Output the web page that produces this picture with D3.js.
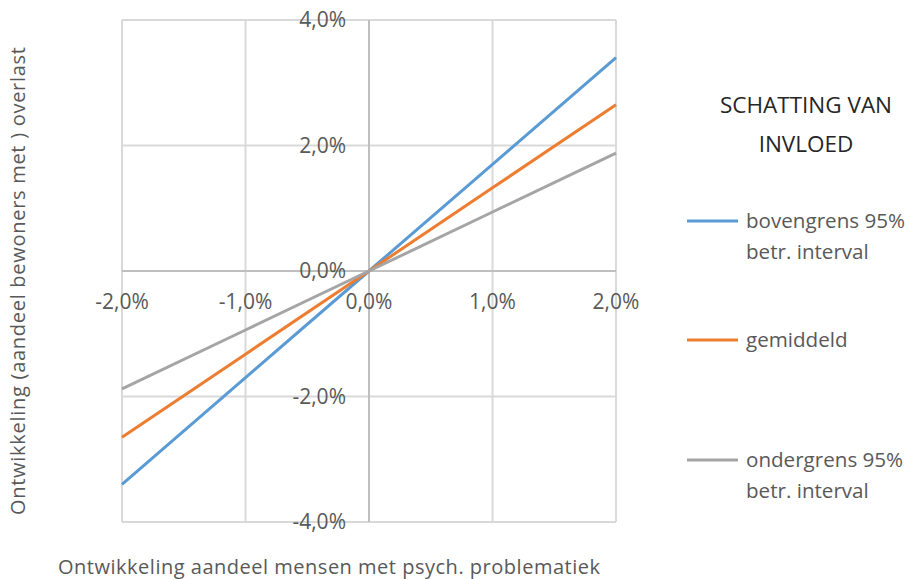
<!DOCTYPE html>
<html><head><meta charset="utf-8">
<script src="https://cdn.jsdelivr.net/npm/d3@7"></script>
<style>body{margin:0;background:#fff}svg{display:block}text{font-family:"Open Sans",sans-serif}</style>
</head><body><svg id="c" width="910" height="579"></svg>
<script>
const xValues = [-0.02, -0.01, 0, 0.01, 0.02];
const bovengrens = [-0.034, -0.017, 0, 0.017, 0.034];
const gemiddeld = [-0.0265, -0.01325, 0, 0.01325, 0.0265];
const ondergrens = [-0.0188, -0.0094, 0, 0.0094, 0.0188];
const xTicks = [-0.02, -0.01, 0, 0.01, 0.02];
const yTicks = [-0.04, -0.02, 0, 0.02, 0.04];
const seriesNames = ["bovengrens 95%|betr. interval", "gemiddeld", "ondergrens 95%|betr. interval"];
const colors = ["#5B9BD5", "#ED7D31", "#A5A5A5"];
const series = [bovengrens, gemiddeld, ondergrens];

const svg = d3.select("#c");
const x = d3.scaleLinear().domain([-0.02, 0.02]).range([122, 616]);
const y = d3.scaleLinear().domain([-0.04, 0.04]).range([522, 20]);
const fmt = v => d3.format(".1%")(v).replace(".", ",").replace("−", "-");

// gridlines
svg.append("g").selectAll("line").data(xTicks.filter(d => d !== 0)).join("line")
  .attr("x1", d => x(d)).attr("x2", d => x(d)).attr("y1", y(0.04)).attr("y2", y(-0.04))
  .attr("stroke", "#d9d9d9").attr("stroke-width", 2);
svg.append("g").selectAll("line").data(yTicks.filter(d => d !== 0)).join("line")
  .attr("x1", x(-0.02)).attr("x2", x(0.02)).attr("y1", d => y(d)).attr("y2", d => y(d))
  .attr("stroke", "#d9d9d9").attr("stroke-width", 2);
// zero axes
svg.append("line").attr("x1", x(0)).attr("x2", x(0)).attr("y1", y(0.04)).attr("y2", y(-0.04))
  .attr("stroke", "#bfbfbf").attr("stroke-width", 2);
svg.append("line").attr("x1", x(-0.02)).attr("x2", x(0.02)).attr("y1", y(0)).attr("y2", y(0))
  .attr("stroke", "#bfbfbf").attr("stroke-width", 2);

// tick labels
svg.append("g").selectAll("text").data(yTicks).join("text")
  .attr("x", x(0) - 23).attr("y", d => y(d)).attr("dy", "0.35em")
  .attr("text-anchor", "end").attr("fill", "#595959").attr("font-size", 21).text(fmt);
svg.append("g").selectAll("text").data(xTicks).join("text")
  .attr("x", d => x(d)).attr("y", y(0) + 38)
  .attr("text-anchor", "middle").attr("fill", "#595959").attr("font-size", 21).text(fmt);

// lines
const line = d3.line().x((d, i) => x(xValues[i])).y(d => y(d));
series.forEach((s, k) => {
  svg.append("path").datum(s).attr("d", line).attr("fill", "none")
    .attr("stroke", colors[k]).attr("stroke-width", 3);
});

// axis titles
svg.append("text").attr("x", 58).attr("y", 574)
  .attr("fill", "#595959").attr("font-size", 20)
  .attr("textLength", 542).attr("lengthAdjust", "spacing")
  .text("Ontwikkeling aandeel mensen met psych. problematiek");
svg.append("text").attr("transform", "translate(25,515) rotate(-90)")
  .attr("fill", "#595959").attr("font-size", 20)
  .attr("textLength", 468).attr("lengthAdjust", "spacing")
  .text("Ontwikkeling (aandeel bewoners met ) overlast");

// legend
const lg = svg.append("g");
lg.append("text").attr("x", 806).attr("y", 113).attr("text-anchor", "middle")
  .attr("fill", "#262626").attr("font-size", 22.5).text("SCHATTING VAN");
lg.append("text").attr("x", 806).attr("y", 152).attr("text-anchor", "middle")
  .attr("fill", "#262626").attr("font-size", 22.5).text("INVLOED");
const legY = [221, 340, 460];
seriesNames.forEach((n, k) => {
  lg.append("line").attr("x1", 687).attr("x2", 738).attr("y1", legY[k]).attr("y2", legY[k])
    .attr("stroke", colors[k]).attr("stroke-width", 3);
  n.split("|").forEach((t, j) => {
    lg.append("text").attr("x", 746).attr("y", legY[k] + 7 + j * 31)
      .attr("fill", "#595959").attr("font-size", 20.6).text(t);
  });
});
</script></body></html>
